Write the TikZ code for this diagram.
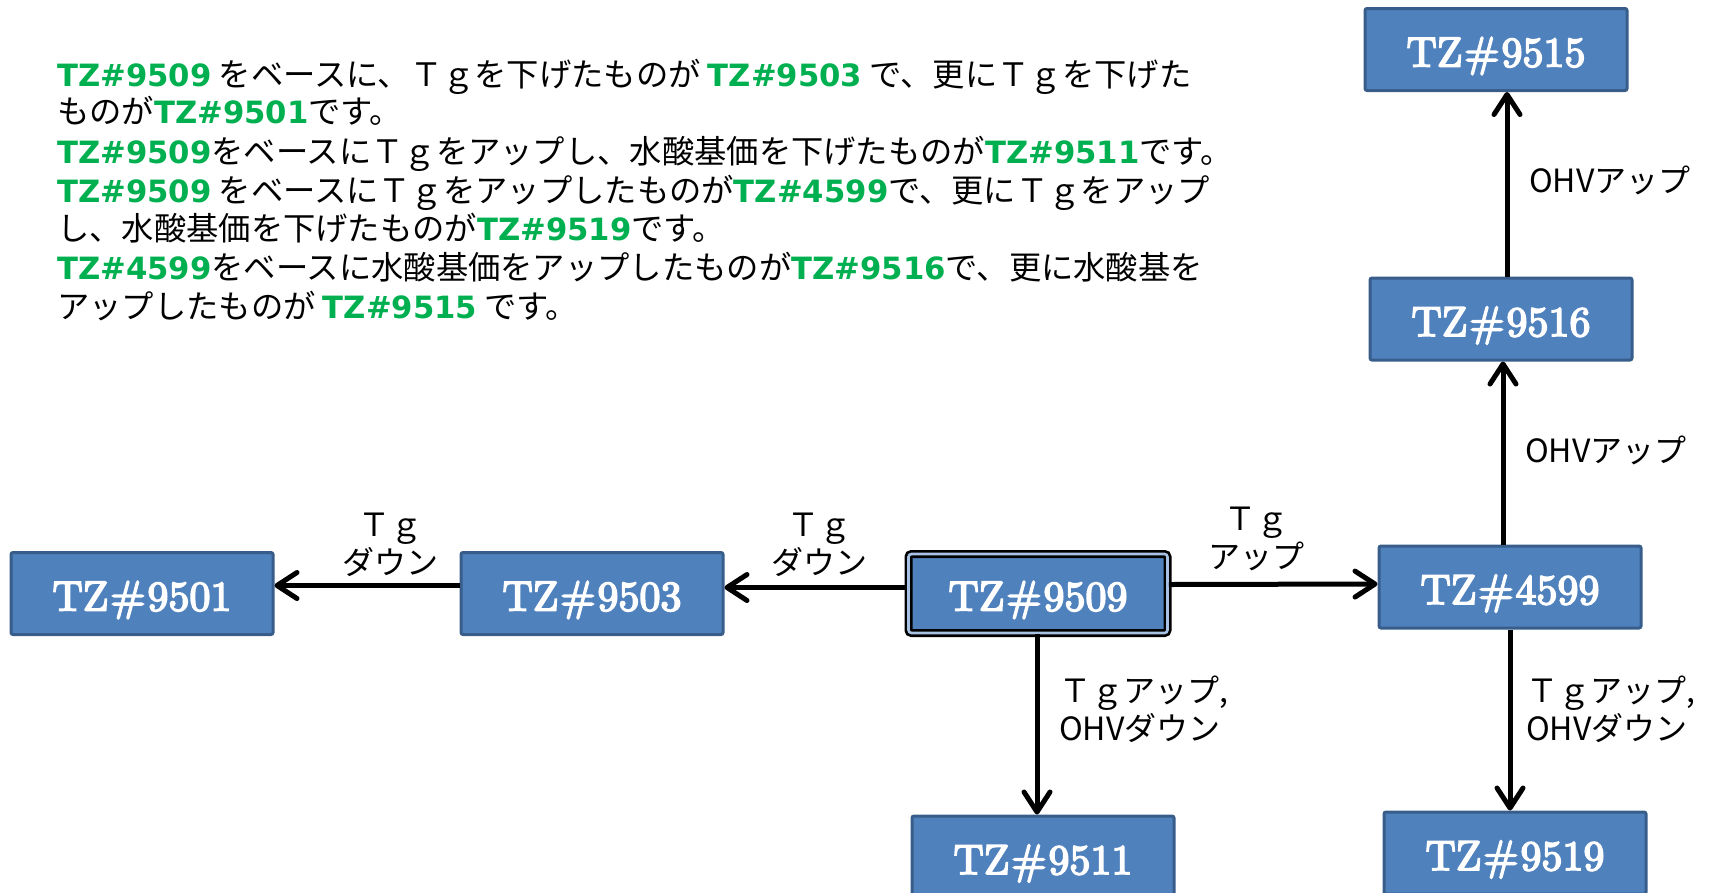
\documentclass[tikz,border=0pt]{standalone}
\usepackage{fontspec}
\usetikzlibrary{arrows.meta}
\newfontfamily\jp{Noto Sans CJK JP}
\newfontfamily\dv{DejaVu Sans}
\newfontfamily\boxfont[FakeBold=4]{lmroman10-regular.otf}
\definecolor{boxblue}{HTML}{4F81BD}
\definecolor{boxedge}{HTML}{385D8A}
\definecolor{tzgreen}{HTML}{00B050}
\definecolor{ringblue}{HTML}{A8C2E4}
\newcommand\tz[1]{{\dv\bfseries\fontsize{30.7}{38}\selectfont\color{tzgreen}#1}}
\newcommand\tzb[1]{TZ\kern2pt\#\kern2pt#1}
\tikzset{
 tzbox/.style={draw=boxedge, fill=boxblue, line width=3pt, rounded corners=2pt,
   minimum width=262pt, minimum height=82pt, inner sep=0pt, text=white,
   text height=34pt, text depth=0pt,
   font=\boxfont\fontsize{42}{42}\selectfont},
 arr/.style={line width=5pt, -{Straight Barb[length=20pt,width=26pt,round]}},
 lbl/.style={font=\jp\fontsize{32}{38}\selectfont, inner sep=0pt},
 desc/.style={anchor=base west, inner sep=0pt, font=\jp\fontsize{32.3}{38}\selectfont},
}
\begin{document}
\begin{tikzpicture}[x=1pt,y=-1pt]
\useasboundingbox (0,0) rectangle (1712,892);
\clip (0,0) rectangle (1712,892);
% description
\node[desc] (d1) at (57,86) {\tz{TZ\#9509} をベースに、Ｔｇを下げたものが \tz{TZ\#9503} で、更にＴｇを下げた};
\node[desc] (d2) at (57,123) {ものが\tz{TZ\#9501}です。};
\node[desc] (d3) at (57,163) {\tz{TZ\#9509}をベースにＴｇをアップし、水酸基価を下げたものが\tz{TZ\#9511}です。};
\node[desc] (d4) at (57,202) {\tz{TZ\#9509} をベースにＴｇをアップしたものが\tz{TZ\#4599}で、更にＴｇをアップ};
\node[desc] (d5) at (57,240) {し、水酸基価を下げたものが\tz{TZ\#9519}です。};
\node[desc] (d6) at (57,279) {\tz{TZ\#4599}をベースに水酸基価をアップしたものが\tz{TZ\#9516}で、更に水酸基を};
\node[desc] (d7) at (57,318) {アップしたものが \tz{TZ\#9515} です。};
% boxes
\node[tzbox] (n9515) at (1496,49.5) {\tzb{9515}};
\node[tzbox] (n9516) at (1501,319) {\tzb{9516}};
\node[tzbox] (n4599) at (1510,587) {\tzb{4599}};
\node[tzbox] (n9519) at (1515,853) {\tzb{9519}};
\node[tzbox] (n9511) at (1043,857) {\tzb{9511}};
\node[tzbox] (n9503) at (592,593.5) {\tzb{9503}};
\node[tzbox] (n9501) at (142,593.5) {\tzb{9501}};
\node[tzbox, draw=black, line width=2.7pt, double=ringblue, double distance=2.6pt,
  minimum width=259pt, minimum height=79pt, rounded corners=3pt] (n9509) at (1038,593.5) {\tzb{9509}};
% arrows
\draw[arr] ([yshift=6pt]n9509.west) -- ([yshift=6pt]n9503.east);
\draw[arr] ([yshift=8pt]n9503.west) -- ([yshift=8pt]n9501.east);
\draw[arr] ([yshift=9pt]n9509.east) -- ([yshift=3pt]n4599.west);
\draw[arr] ([xshift=-7pt]n4599.north) -- ([xshift=2pt]n9516.south);
\draw[arr] ([xshift=6pt]n9516.north) -- ([xshift=11pt]n9515.south);
\draw[arr] ([xshift=-1pt]n9509.south) -- ([xshift=-6pt]n9511.north);
\draw[arr] (n4599.south) -- ([xshift=-5pt]n9519.north);
% labels
\node[lbl, align=center] (l1) at (390,545) {Ｔｇ\\ダウン};
\node[lbl, align=center] (l2) at (819,545) {Ｔｇ\\ダウン};
\node[lbl, align=center] (l3) at (1256,539) {Ｔｇ\\アップ};
\node[lbl, anchor=west] (l4) at (1529,180) {OHVアップ};
\node[lbl, anchor=west] (l5) at (1525,450) {OHVアップ};
\node[lbl, align=left, anchor=west] (l6) at (1059,709) {Ｔｇアップ,\\OHVダウン};
\node[lbl, align=left, anchor=west] (l7) at (1526,709) {Ｔｇアップ,\\OHVダウン};
\end{tikzpicture}
\end{document}
